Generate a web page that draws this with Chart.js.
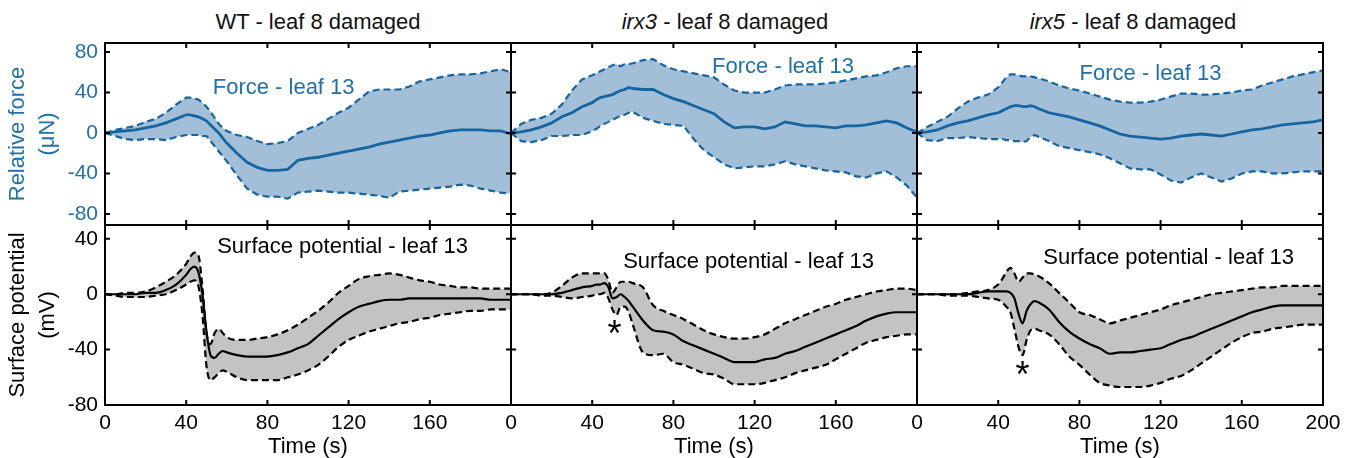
<!DOCTYPE html>
<html>
<head>
<meta charset="utf-8">
<script src="https://cdn.jsdelivr.net/npm/chart.js@4.4.0/dist/chart.umd.min.js"></script>
<style>
    body { margin: 0; background: #fff; width: 1358px; height: 458px; overflow: hidden; position: relative;
           font-family: "Liberation Sans", Arial, sans-serif; }
    canvas { position: absolute; }
    .ttl { position: absolute; top: 11px; width: 406px; text-align: center; font-size: 22px; line-height: 22px; color: #111; }
</style>
</head>
<body>
<div class="ttl" style="left:115px">WT - leaf 8 damaged</div>
<div class="ttl" style="left:522px"><i>irx3</i> - leaf 8 damaged</div>
<div class="ttl" style="left:930px"><i>irx5</i> - leaf 8 damaged</div>
<script>
// time axis (s), finer around the 40-60 s event
var time = [0,5,10,15,20,25,30,35,40, 42,44,46,48,50,52,54,56,58,
    60,65,70,75,80,85,90,95,100,105,110,115,120,125,130,135,140,145,150,155,160,165,170,175,180,185,190,195,200];

var timeTicks = [0, 40, 80, 120, 160, 200];
var forceTicks = [-80, -40, 0, 40, 80];
var potentialTicks = [-80, -40, 0, 40];

// relative force (uN), leaf 13
var wtForceMean = [0,1,2,3,5,7,10,14,18, 18,17,16,14,12,8,4,0,-5,
    -10,-20,-29,-34,-37,-37,-36,-27,-25,-24,-22,-20,-18,-16,-14,-11,-9,-7,-5,-3,-2,0,2,3,3,3,2,2,-1];
var wtForceUpper = [0,3,5,7,11,14,20,28,35, 35,34,33,30,26,21,15,9,5,
    2,-2,-4,-8,-11,-10,-8,0,4,8,14,20,25,33,41,43,43,43,46,51,53,55,57,58,58,59,61,63,60];
var wtForceLower = [0,-3,-6,-7,-6,-6,-7,-4,-2, -2,-2,-2,-3,-3,-8,-13,-18,-23,
    -28,-42,-55,-61,-63,-63,-65,-59,-58,-57,-58,-59,-59,-60,-61,-62,-64,-58,-57,-56,-55,-54,-53,-51,-52,-55,-57,-59,-60];

var irx3ForceMean = [0,1,3,6,10,16,20,26,30, 33,35,36,37,38,40,42,43,45,
    44,43,43,38,34,31,27,23,19,11,5,6,6,4,6,11,9,7,7,6,5,7,7,8,10,12,10,5,1];
var irx3ForceUpper = [0,9,13,15,19,28,42,53,57, 59,61,63,65,67,68,66,68,68,
    69,72,73,67,63,61,59,57,55,48,42,40,40,40,43,47,48,48,48,49,50,52,54,56,57,60,64,66,66];
var irx3ForceLower = [0,-8,-9,-7,-3,-3,-2,-2,2, 4,7,9,11,13,15,17,18,20,
    21,15,12,9,8,7,-6,-17,-24,-31,-35,-34,-33,-33,-31,-28,-31,-33,-35,-37,-38,-39,-43,-44,-40,-38,-44,-52,-64];

var irx5ForceMean = [0,1,3,7,10,12,15,18,20, 22,24,26,27,27,26,26,27,26,
    24,20,18,16,13,10,7,3,-1,-3,-4,-5,-6,-5,-3,-2,-1,-2,-3,-1,1,3,4,6,8,9,10,11,13];
var irx5ForceUpper = [0,6,11,16,24,31,35,38,45, 50,55,58,58,57,56,56,56,55,
    54,51,47,44,42,39,36,33,31,30,30,31,33,36,39,39,38,38,39,40,42,43,47,50,53,56,58,60,62];
var irx5ForceLower = [0,-7,-8,-5,-5,-4,-5,-6,-6, -6,-7,-7,-8,-8,-9,-8,-4,-2,
    -4,-8,-13,-15,-17,-19,-21,-25,-30,-35,-36,-36,-41,-47,-49,-44,-40,-44,-48,-45,-40,-38,-38,-40,-40,-39,-38,-38,-38];

// surface potential (mV), leaf 13
var wtPotMean = [0,0,0,0,1,1,3,7,14, 18,20,16,0,-27,-44,-46,-43,-41,
    -42,-44,-45,-45,-45,-44,-42,-39,-36,-30,-24,-18,-13,-9,-7,-5,-4,-4,-3,-3,-3,-3,-3,-3,-3,-3,-4,-4,-4];
var wtPotUpper = [0,0,1,1,2,5,9,14,22, 27,30,28,5,-28,-36,-28,-25,-28,
    -31,-33,-33,-32,-31,-29,-26,-22,-17,-12,-6,1,6,11,13,14,15,14,12,10,9,7,6,5,5,4,4,4,4];
var wtPotLower = [0,-1,-2,-2,-2,-1,0,3,7, 9,10,6,-15,-52,-62,-60,-57,-55,
    -56,-60,-62,-62,-62,-62,-60,-58,-55,-51,-45,-38,-33,-30,-27,-25,-23,-21,-20,-18,-17,-15,-14,-13,-12,-12,-11,-11,-11];

var irx3PotMean = [0,0,0,0,0,1,3,5,6, 7,7,8,5,-3,-2,0,-2,-5,
    -9,-19,-26,-27,-29,-34,-37,-40,-43,-46,-49,-49,-49,-47,-46,-43,-41,-38,-35,-32,-29,-26,-23,-19,-16,-14,-13,-13,-13];
var irx3PotUpper = [0,0,0,0,1,6,12,15,15, 15,15,15,10,1,5,9,9,9,
    8,5,-8,-12,-15,-18,-22,-26,-29,-31,-32,-32,-31,-29,-25,-21,-18,-15,-12,-9,-7,-4,-2,0,2,3,4,4,3];
var irx3PotLower = [0,0,0,-1,-1,-2,-3,-2,-1, 0,0,1,-3,-11,-15,-9,-9,-13,
    -22,-42,-44,-43,-49,-51,-54,-57,-58,-61,-65,-65,-65,-64,-62,-60,-57,-55,-53,-51,-47,-43,-39,-35,-33,-31,-30,-29,-29];

var irx5PotMean = [0,0,0,0,0,0,1,2,2, 2,2,1,-3,-14,-21,-12,-7,-5,
    -6,-11,-20,-27,-32,-36,-39,-43,-42,-42,-41,-40,-39,-36,-33,-31,-28,-25,-22,-19,-16,-13,-11,-9,-8,-8,-8,-8,-8];
var irx5PotUpper = [0,0,0,0,0,1,2,3,7, 11,16,19,15,9,12,15,15,14,
    13,8,1,-6,-13,-15,-18,-21,-19,-17,-15,-13,-11,-8,-6,-4,-2,0,1,2,3,4,5,5,6,6,6,6,6];
var irx5PotLower = [0,0,0,-1,-1,-1,-2,-3,-4, -6,-9,-13,-25,-38,-44,-33,-26,-25,
    -26,-29,-36,-45,-51,-58,-64,-66,-67,-67,-67,-66,-64,-61,-59,-55,-50,-45,-40,-35,-31,-28,-27,-25,-24,-23,-22,-22,-22];

Chart.defaults.font.family = '"Liberation Sans", Arial, sans-serif';
Chart.defaults.font.size = 21;

var BLUE = '#1565a2';
var BLUE_TEXT = '#2171ac';
var BLUE_FILL = '#a3bfd8';
var GREY_FILL = '#c3c3c3';

var colLeft = [105, 511, 917];
var rowTop = [43, 225];
var rowHeight = [182, 180];
var PANEL_W = 406;
var M_LEFT = 105, M_RIGHT = 40, M_TOP = 20;
var M_BOTTOM = [30, 53];

var rowStyle = [
    { line: BLUE, fill: BLUE_FILL, text: BLUE_TEXT, min: -91, max: 89, ticks: forceTicks, meanWidth: 2.8,
      smooth: false, title: ['Relative force', '(\u03bcN)'] },
    { line: '#000', fill: GREY_FILL, text: '#000', min: -80, max: 50, ticks: potentialTicks, meanWidth: 2.2,
      smooth: true, title: ['Surface potential', '(mV)'] }
];

var panels = [
    { row: 0, col: 0, mean: wtForceMean, upper: wtForceUpper, lower: wtForceLower,
      notes: [{ text: 'Force - leaf 13', x: 88, y: 45 }] },
    { row: 0, col: 1, mean: irx3ForceMean, upper: irx3ForceUpper, lower: irx3ForceLower,
      notes: [{ text: 'Force - leaf 13', x: 134, y: 65 }] },
    { row: 0, col: 2, mean: irx5ForceMean, upper: irx5ForceUpper, lower: irx5ForceLower,
      notes: [{ text: 'Force - leaf 13', x: 115, y: 58 }] },
    { row: 1, col: 0, mean: wtPotMean, upper: wtPotUpper, lower: wtPotLower,
      notes: [{ text: 'Surface potential - leaf 13', x: 117, y: 34 }] },
    { row: 1, col: 1, mean: irx3PotMean, upper: irx3PotUpper, lower: irx3PotLower,
      notes: [{ text: 'Surface potential - leaf 13', x: 117, y: 23 },
              { text: '*', x: 51, y: -30, size: 36 }] },
    { row: 1, col: 2, mean: irx5PotMean, upper: irx5PotUpper, lower: irx5PotLower,
      notes: [{ text: 'Surface potential - leaf 13', x: 124, y: 26 },
              { text: '*', x: 52, y: -60, size: 36 }] }
];

// box frame with inward ticks on all four sides, plus the in-panel labels
var framePlugin = {
    id: 'frame',
    afterDatasetsDraw: function(chart, args, opts) {
        var ctx = chart.ctx, a = chart.chartArea;
        var sx = chart.scales.x, sy = chart.scales.y;
        ctx.save();
        ctx.strokeStyle = '#000';
        ctx.lineWidth = 2;
        ctx.strokeRect(a.left, a.top, a.right - a.left, a.bottom - a.top);
        ctx.beginPath();
        sx.ticks.forEach(function(t) {
            var px = sx.getPixelForValue(t.value);
            ctx.moveTo(px, a.top); ctx.lineTo(px, a.top + 5);
            ctx.moveTo(px, a.bottom); ctx.lineTo(px, a.bottom - 5);
        });
        sy.ticks.forEach(function(t) {
            var py = sy.getPixelForValue(t.value);
            ctx.moveTo(a.left, py); ctx.lineTo(a.left + 5, py);
            ctx.moveTo(a.right, py); ctx.lineTo(a.right - 5, py);
        });
        ctx.stroke();
        ctx.textAlign = 'center';
        ctx.textBaseline = 'middle';
        (opts.notes || []).forEach(function(n) {
            ctx.font = (n.size || 22) + 'px "Liberation Sans", Arial, sans-serif';
            ctx.fillStyle = opts.color;
            ctx.fillText(n.text, sx.getPixelForValue(n.x), sy.getPixelForValue(n.y));
        });
        ctx.restore();
    }
};

function points(values) {
    return time.map(function(t, i) { return { x: t, y: values[i] }; });
}

panels.forEach(function(p) {
    var st = rowStyle[p.row];
    var canvas = document.createElement('canvas');
    canvas.width = M_LEFT + PANEL_W + M_RIGHT;
    canvas.height = M_TOP + rowHeight[p.row] + M_BOTTOM[p.row];
    canvas.style.left = (colLeft[p.col] - M_LEFT) + 'px';
    canvas.style.top = (rowTop[p.row] - M_TOP) + 'px';
    document.body.appendChild(canvas);

    var curve = st.smooth ? 'monotone' : 'default';

    // dataset 0 is painted last, so the mean goes first to sit on top of the band
    new Chart(canvas, {
        type: 'line',
        data: {
            datasets: [{
                data: points(p.mean),
                borderColor: st.line, borderWidth: st.meanWidth, cubicInterpolationMode: curve,
                fill: false, pointRadius: 0
            }, {
                data: points(p.upper),
                borderColor: st.line, borderWidth: 2.2, borderDash: [7, 4], cubicInterpolationMode: curve,
                backgroundColor: st.fill, fill: '+1', pointRadius: 0
            }, {
                data: points(p.lower),
                borderColor: st.line, borderWidth: 2.2, borderDash: [7, 4], cubicInterpolationMode: curve,
                fill: false, pointRadius: 0
            }]
        },
        options: {
            responsive: false,
            animation: false,
            events: [],
            layout: { padding: { left: 0, top: M_TOP, right: M_RIGHT, bottom: 0 } },
            plugins: {
                legend: { display: false },
                tooltip: { enabled: false },
                filler: { drawTime: 'beforeDatasetsDraw' },
                frame: { notes: p.notes, color: st.text }
            },
            scales: {
                x: {
                    type: 'linear', min: 0, max: 200,
                    afterBuildTicks: function(s) { s.ticks = timeTicks.map(function(v) { return { value: v }; }); },
                    afterFit: function(s) { s.height = M_BOTTOM[p.row]; },
                    grid: { display: false, drawTicks: false },
                    border: { display: false },
                    ticks: {
                        display: p.row === 1, color: '#000', padding: 6, maxRotation: 0, autoSkip: false,
                        callback: function(v) { return (v === 200 && p.col < 2) ? '' : v; }
                    },
                    title: { display: p.row === 1, text: 'Time (s)', color: '#000',
                             font: { size: 22, lineHeight: 1 }, padding: 0 }
                },
                y: {
                    min: st.min, max: st.max,
                    afterBuildTicks: function(s) { s.ticks = st.ticks.map(function(v) { return { value: v }; }); },
                    afterFit: function(s) { s.width = M_LEFT; },
                    grid: { display: false, drawTicks: false },
                    border: { display: false },
                    ticks: { display: p.col === 0, color: st.text, padding: 7, autoSkip: false },
                    title: { display: p.col === 0, text: st.title, color: st.text,
                             font: { size: 22, lineHeight: 1.36 }, padding: { top: 3, bottom: 0 } }
                }
            }
        },
        plugins: [framePlugin]
    });
});
</script>
</body>
</html>
